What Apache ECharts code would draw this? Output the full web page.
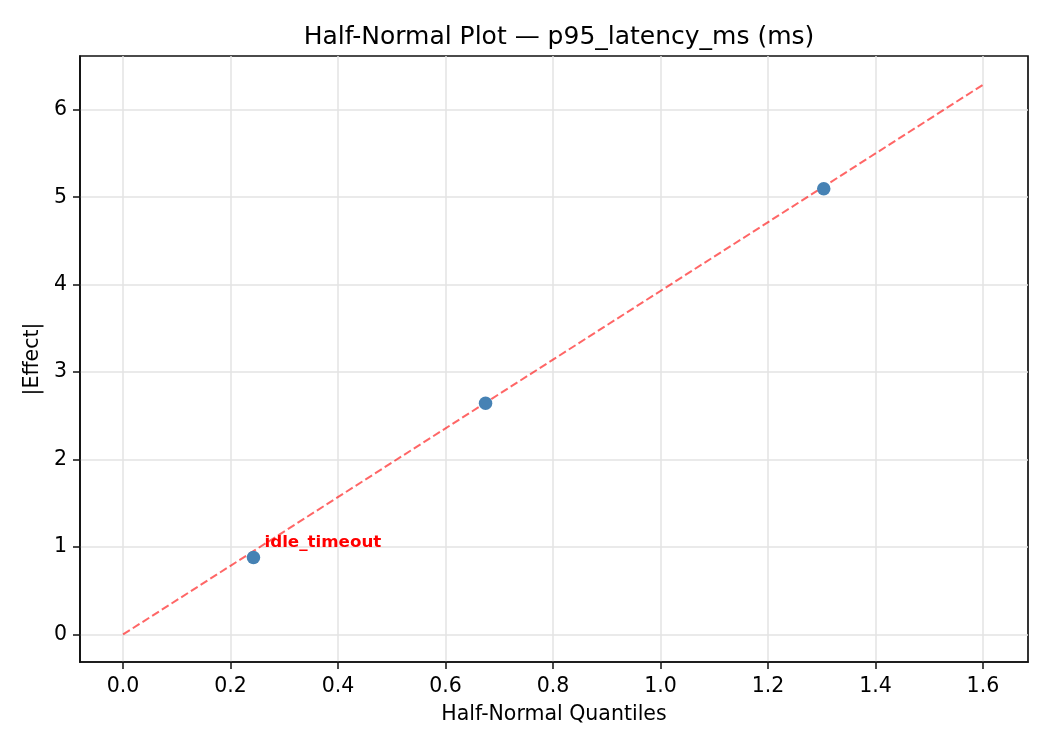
<!DOCTYPE html>
<html>
<head>
<meta charset="utf-8">
<script src="https://cdn.jsdelivr.net/npm/echarts@6/dist/echarts.min.js"></script>
<style>
  html, body { margin: 0; padding: 0; background: #fff; }
  #main { width: 1050px; height: 750px; }
</style>
</head>
<body>
<div id="main"></div>
<script>
// 半正态图数据
var quantiles = [0.2426, 0.6745, 1.3038];
var effects = [0.88, 2.645, 5.096];
var factorLabels = ['idle_timeout', '', ''];
// 参考线 (从原点出发)
var refLineX = [0, 1.6037];
var refLineY = [0, 6.30];
// 刻度
var xTicks = [0, 0.2, 0.4, 0.6, 0.8, 1.0, 1.2, 1.4, 1.6];
var yTicks = [0, 1, 2, 3, 4, 5, 6];

(function() {
    var myChart = echarts.init(document.getElementById("main"));
    var font = "DejaVu Sans";

    var pts = quantiles.map(function(q, i) {
        var item = { value: [q, effects[i]] };
        if (factorLabels[i]) {
            item.label = {
                show: true,
                formatter: factorLabels[i],
                position: 'inside',
                align: 'left',
                verticalAlign: 'bottom',
                offset: [11, -6],
                color: '#ff0000',
                fontWeight: 'bold',
                fontSize: 16.7,
                fontFamily: font
            };
        }
        return item;
    });
    var line = refLineX.map(function(x, i) { return [x, refLineY[i]]; });

    function axisOf(ticks, fmt) {
        return {
            type: 'value',
            axisLine: { show: true, onZero: false, lineStyle: { color: '#111', width: 1.7 } },
            axisTick: { show: true, inside: false, length: 7, customValues: ticks, lineStyle: { color: '#111', width: 1.5 } },
            splitLine: { show: true, customValues: ticks, lineStyle: { color: '#e3e3e3', width: 1.5 } },
            axisLabel: {
                customValues: ticks, color: '#000', fontSize: 20.5, fontFamily: font,
                formatter: fmt
            },
            nameLocation: 'middle',
            nameTextStyle: { color: '#000', fontSize: 20.5, fontFamily: font }
        };
    }

    var xAxis = axisOf(xTicks, function(v) { return v.toFixed(1); });
    xAxis.min = -0.0802;
    xAxis.max = 1.6839;
    xAxis.name = 'Half-Normal Quantiles';
    xAxis.nameGap = 42;
    xAxis.axisLabel.margin = 14;

    var yAxis = axisOf(yTicks, function(v) { return String(Math.round(v)); });
    yAxis.min = -0.315;
    yAxis.max = 6.615;
    yAxis.name = '|Effect|';
    yAxis.nameGap = 31;
    yAxis.axisLabel.margin = 13;

    var option = {
        animation: false,
        title: {
            text: 'Half-Normal Plot — p95_latency_ms (ms)',
            left: 554,
            top: 20,
            textAlign: 'center',
            textStyle: { color: '#000', fontSize: 25, fontWeight: 'normal', fontFamily: font }
        },
        grid: {
            left: 80, right: 22, top: 56, bottom: 88,
            show: true, borderColor: '#111', borderWidth: 1.7
        },
        xAxis: xAxis,
        yAxis: yAxis,
        series: [{
            name: 'reference',
            type: 'line',
            data: line,
            showSymbol: false,
            symbol: 'none',
            lineStyle: { color: 'rgba(255,0,0,0.6)', width: 2, type: [8, 3.5] },
            z: 2
        }, {
            name: 'effects',
            type: 'scatter',
            data: pts,
            symbolSize: 13.5,
            itemStyle: { color: '#4682b4', opacity: 1 },
            z: 3
        }]
    };
    myChart.setOption(option);
})();
</script>
</body>
</html>
